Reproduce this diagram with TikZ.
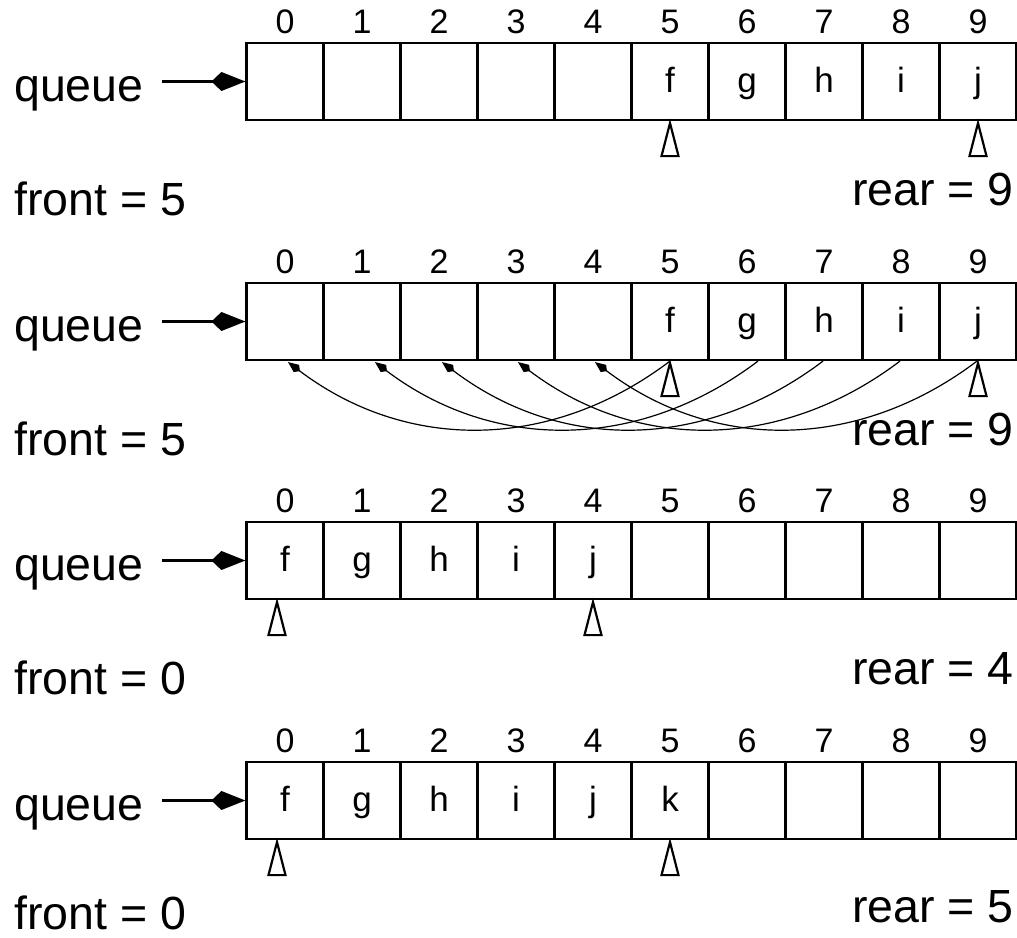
\documentclass[tikz,border=0pt]{standalone}
\usepackage{fontspec}
\setmainfont{Liberation Sans}
\usetikzlibrary{arrows.meta}
\begin{document}
\begin{tikzpicture}[x=1pt,y=-1pt,
  cell/.style={draw,line width=2.2pt,minimum width=77pt,minimum height=77pt,inner sep=0pt,
    text height=25pt,text depth=3pt,font=\fontsize{35}{37}\selectfont},
  idx/.style={anchor=base,inner sep=0pt,font=\fontsize{34}{37}\selectfont},
  big/.style={inner sep=0pt,font=\fontsize{46.5}{50}\selectfont},
  qarrow/.style={line width=2.2pt,-{Kite[length=34pt,width=19pt,inset=10pt]}},
  ptr/.style={line width=2.2pt,line join=miter},
  move/.style={line width=1.2pt,-{Kite[length=15pt,width=9pt,inset=4.5pt]}}]
\useasboundingbox (0,0) rectangle (1017,937);

% ---------- row 1 ----------
\foreach \k/\t in {0/{},1/{},2/{},3/{},4/{},5/f,6/g,7/h,8/i,9/j}{
  \node[cell] (a\k) at (285+77*\k,81.5) {\t};
  \node[idx] (ai\k) at (285+77*\k,33) {\k};
}
\node[big,anchor=base west] (aq) at (14,101) {queue};
\coordinate (aqs) at (162,81.5);
\draw[qarrow] (aqs) -- (a0.west);
\draw[ptr] ([yshift=-2pt]a5.south) -- ++(8.5,33) -- ++(-17,0) -- cycle;
\draw[ptr] ([yshift=-2pt]a9.south) -- ++(8.5,33) -- ++(-17,0) -- cycle;
\node[big,anchor=base west] (af) at (14,215) {front = 5};
\node[big,anchor=base east] (ar) at (1014,205) {rear = 9};

% ---------- row 2 ----------
\foreach \k/\t in {0/{},1/{},2/{},3/{},4/{},5/f,6/g,7/h,8/i,9/j}{
  \node[cell] (b\k) at (285+77*\k,321.5) {\t};
  \node[idx] (bi\k) at (285+77*\k,273) {\k};
}
\node[big,anchor=base west] (bq) at (14,341) {queue};
\coordinate (bqs) at (162,321.5);
\draw[qarrow] (bqs) -- (b0.west);
\draw[move] (b5.south) .. controls +(-119,90) and +(119,90) .. ([xshift=3pt,yshift=-1pt]b0.south);
\draw[move] ([xshift=11pt]b6.south) .. controls +(-119,90) and +(119,90) .. ([xshift=13pt,yshift=-1pt]b1.south);
\draw[move] ([xshift=-1pt]b7.south) .. controls +(-119,90) and +(119,90) .. ([xshift=3pt,yshift=-1pt]b2.south);
\draw[move] ([xshift=-1pt]b8.south) .. controls +(-119,90) and +(119,90) .. ([xshift=2pt,yshift=-1pt]b3.south);
\draw[move] ([xshift=-1pt]b9.south) .. controls +(-119,90) and +(119,90) .. ([xshift=2pt,yshift=-1pt]b4.south);
\draw[ptr] ([yshift=-2pt]b5.south) -- ++(8.5,33) -- ++(-17,0) -- cycle;
\draw[ptr] ([yshift=-2pt]b9.south) -- ++(8.5,33) -- ++(-17,0) -- cycle;
\node[big,anchor=base west] (bf) at (14,455) {front = 5};
\node[big,anchor=base east] (br) at (1014,445) {rear = 9};

% ---------- row 3 ----------
\foreach \k/\t in {0/f,1/g,2/h,3/i,4/j,5/{},6/{},7/{},8/{},9/{}}{
  \node[cell] (c\k) at (285+77*\k,560.5) {\t};
  \node[idx] (ci\k) at (285+77*\k,512) {\k};
}
\node[big,anchor=base west] (cq) at (14,580) {queue};
\coordinate (cqs) at (162,560.5);
\draw[qarrow] (cqs) -- (c0.west);
\draw[ptr] ([xshift=-8pt,yshift=-2pt]c0.south) -- ++(8.5,33) -- ++(-17,0) -- cycle;
\draw[ptr] ([yshift=-2pt]c4.south) -- ++(8.5,33) -- ++(-17,0) -- cycle;
\node[big,anchor=base west] (cf) at (14,694) {front = 0};
\node[big,anchor=base east] (cr) at (1014,684) {rear = 4};

% ---------- row 4 ----------
\foreach \k/\t in {0/f,1/g,2/h,3/i,4/j,5/k,6/{},7/{},8/{},9/{}}{
  \node[cell] (d\k) at (285+77*\k,800.5) {\t};
  \node[idx] (di\k) at (285+77*\k,752) {\k};
}
\node[big,anchor=base west] (dq) at (14,820) {queue};
\coordinate (dqs) at (162,800.5);
\draw[qarrow] (dqs) -- (d0.west);
\draw[ptr] ([xshift=-8pt,yshift=-2pt]d0.south) -- ++(8.5,33) -- ++(-17,0) -- cycle;
\draw[ptr] ([yshift=-2pt]d5.south) -- ++(8.5,33) -- ++(-17,0) -- cycle;
\node[big,anchor=base west] (df) at (14,929) {front = 0};
\node[big,anchor=base east] (dr) at (1014,922) {rear = 5};
\end{tikzpicture}
\end{document}
